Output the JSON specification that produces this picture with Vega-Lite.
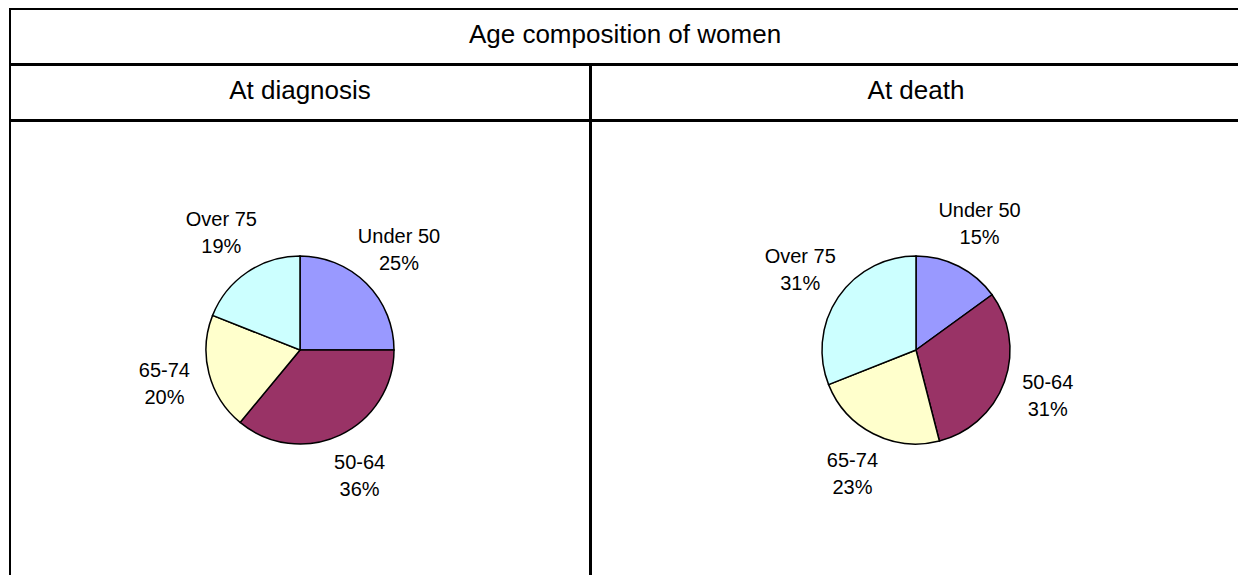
{
  "$schema": "https://vega.github.io/schema/vega-lite/v6.json",
  "padding": {"left": 9, "top": 8, "right": 0, "bottom": 0},
  "background": "white",
  "spacing": -2,
  "config": {
    "view": {"stroke": "black", "strokeWidth": 2},
    "concat": {"spacing": -2},
    "text": {"font": "Liberation Sans", "color": "black"}
  },
  "datasets": {
    "heads": [
      {"cell": "title", "text": "Age composition of women"},
      {"cell": "At diagnosis", "text": "At diagnosis"},
      {"cell": "At death", "text": "At death"}
    ],
    "pies": [
      {"stage": "At diagnosis", "age": "Under 50", "share": 0.25, "k": 1},
      {"stage": "At diagnosis", "age": "50-64", "share": 0.36, "k": 2},
      {"stage": "At diagnosis", "age": "65-74", "share": 0.20, "k": 3},
      {"stage": "At diagnosis", "age": "Over 75", "share": 0.19, "k": 4},
      {"stage": "At death", "age": "Under 50", "share": 0.15, "k": 1},
      {"stage": "At death", "age": "50-64", "share": 0.31, "k": 2},
      {"stage": "At death", "age": "65-74", "share": 0.23, "k": 3},
      {"stage": "At death", "age": "Over 75", "share": 0.31, "k": 4}
    ]
  },
  "vconcat": [
    {
      "width": 1230,
      "height": 55,
      "view": {"stroke": "black", "strokeWidth": 2},
      "data": {"name": "heads"},
      "transform": [{"filter": "datum.cell === 'title'"}],
      "mark": {"type": "text", "fontSize": 26, "dy": -2},
      "encoding": {"text": {"field": "text", "type": "nominal"}}
    },
    {
      "spacing": -2,
      "hconcat": [
        {
          "width": 580,
          "height": 55,
          "view": {"stroke": "black", "strokeWidth": 2},
          "data": {"name": "heads"},
          "transform": [{"filter": "datum.cell === 'At diagnosis'"}],
          "mark": {"type": "text", "fontSize": 26, "dy": -2},
          "encoding": {"text": {"field": "text", "type": "nominal"}}
        },
        {
          "width": 650,
          "height": 55,
          "view": {"stroke": "black", "strokeWidth": 2},
          "data": {"name": "heads"},
          "transform": [{"filter": "datum.cell === 'At death'"}],
          "mark": {"type": "text", "fontSize": 26, "dy": -2},
          "encoding": {"text": {"field": "text", "type": "nominal"}}
        }
      ]
    },
    {
      "spacing": -2,
      "hconcat": [
        {
          "width": 580,
          "height": 458,
          "view": {"stroke": "black", "strokeWidth": 2},
          "data": {"name": "pies"},
          "transform": [{"filter": "datum.stage === 'At diagnosis'"}],
          "encoding": {
            "theta": {"field": "share", "type": "quantitative", "stack": true},
            "order": {"field": "k", "type": "quantitative"}
          },
          "layer": [
            {
              "mark": {"type": "arc", "outerRadius": 94, "stroke": "black", "strokeWidth": 1.5},
              "encoding": {
                "color": {
                  "field": "age",
                  "type": "nominal",
                  "scale": {"domain": ["Under 50", "50-64", "65-74", "Over 75"], "range": ["#9999FF", "#993366", "#FFFFCC", "#CCFFFF"]},
                  "legend": null
                }
              }
            },
            {
              "mark": {"type": "text", "radius": 140, "dy": -14, "fontSize": 20},
              "encoding": {"text": {"field": "age", "type": "nominal"}, "detail": {"field": "age", "type": "nominal"}}
            },
            {
              "mark": {"type": "text", "radius": 140, "dy": 13, "fontSize": 20},
              "encoding": {"text": {"field": "share", "type": "quantitative", "format": ".0%"}, "detail": {"field": "age", "type": "nominal"}}
            }
          ]
        },
        {
          "width": 650,
          "height": 458,
          "view": {"stroke": "black", "strokeWidth": 2},
          "data": {"name": "pies"},
          "transform": [{"filter": "datum.stage === 'At death'"}],
          "encoding": {
            "theta": {"field": "share", "type": "quantitative", "stack": true},
            "order": {"field": "k", "type": "quantitative"}
          },
          "layer": [
            {
              "mark": {"type": "arc", "outerRadius": 94, "stroke": "black", "strokeWidth": 1.5},
              "encoding": {
                "color": {
                  "field": "age",
                  "type": "nominal",
                  "scale": {"domain": ["Under 50", "50-64", "65-74", "Over 75"], "range": ["#9999FF", "#993366", "#FFFFCC", "#CCFFFF"]},
                  "legend": null
                }
              }
            },
            {
              "mark": {"type": "text", "radius": 140, "dy": -14, "fontSize": 20},
              "encoding": {"text": {"field": "age", "type": "nominal"}, "detail": {"field": "age", "type": "nominal"}}
            },
            {
              "mark": {"type": "text", "radius": 140, "dy": 13, "fontSize": 20},
              "encoding": {"text": {"field": "share", "type": "quantitative", "format": ".0%"}, "detail": {"field": "age", "type": "nominal"}}
            }
          ]
        }
      ]
    }
  ]
}
